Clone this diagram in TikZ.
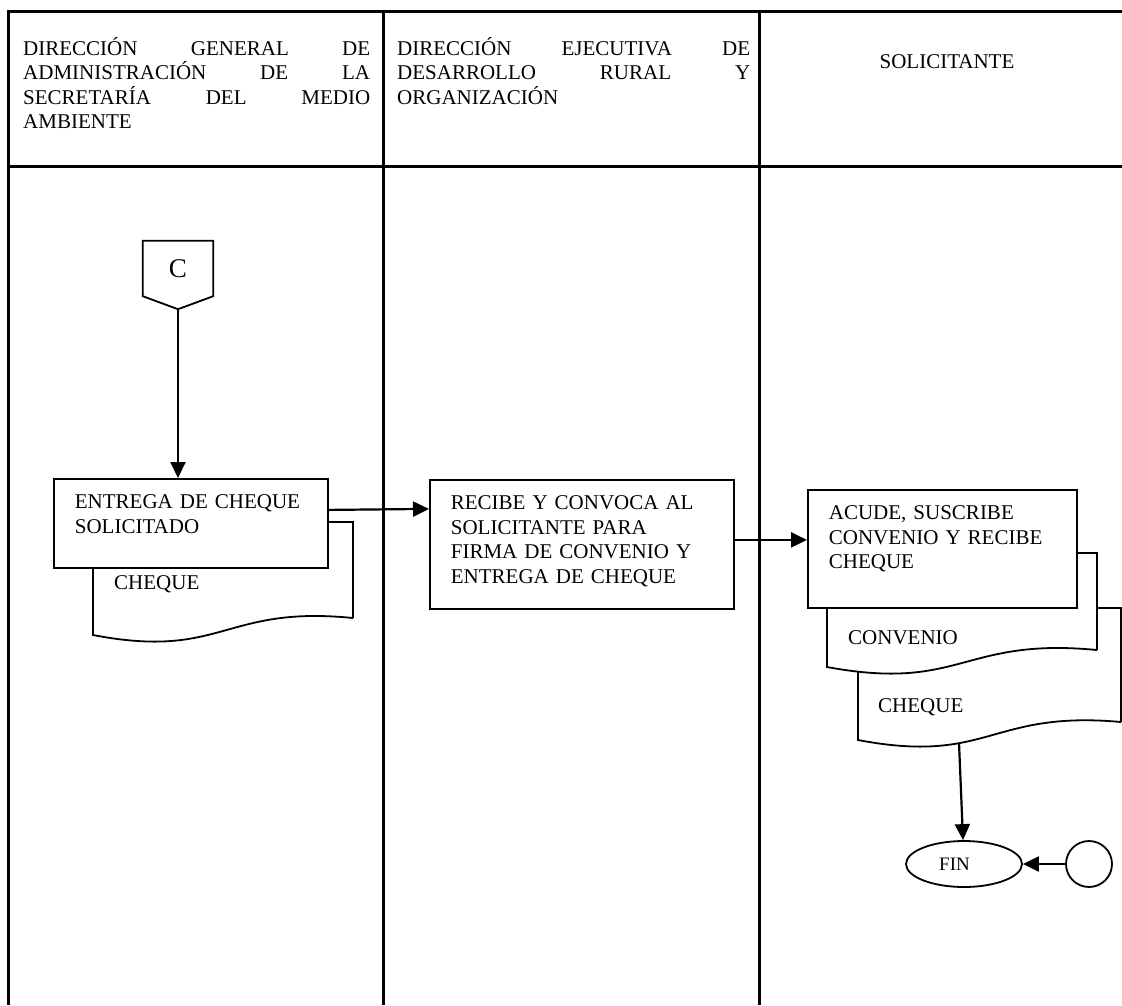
\documentclass[tikz,border=0pt]{standalone}
\usepackage{fontspec}
\setmainfont{Liberation Serif}
\usetikzlibrary{arrows.meta,shapes.geometric}
\hyphenpenalty=10000
\exhyphenpenalty=10000
\tolerance=10000

\begin{document}
\begin{tikzpicture}[x=1pt,y=-1pt,font=\fontsize{21}{24.5}\selectfont,
  lane/.style={line width=3pt},
  head/.style={inner sep=0pt,anchor=north west,text height=15pt},
  proc/.style={draw,rectangle,line width=1.8pt,fill=white,anchor=north west,align=left,
    inner xsep=21pt,inner ysep=16pt,text height=14pt},
  doc/.style={draw,line width=1.8pt,fill=white},
  doctxt/.style={anchor=base west,inner sep=0pt},
  flow/.style={line width=2.2pt,-{Triangle[length=16pt,width=15pt]}}]
  \useasboundingbox (0,0) rectangle (1122,1005);

  % swimlanes
  \draw[lane] (8,1005) -- (8,11) -- (1122,11);
  \draw[lane] (8,166) -- (1122,166);
  \draw[lane] (383,11) -- (383,1005);
  \draw[lane] (759,11) -- (759,1005);
  \node[head,text width=347pt,align=justify] (dga) at (23,40) {DIRECCIÓN GENERAL DE ADMINISTRACIÓN DE LA SECRETARÍA DEL MEDIO AMBIENTE};
  \node[head,text width=353pt,align=justify] (dedro) at (397,40) {DIRECCIÓN EJECUTIVA DE DESARROLLO RURAL Y ORGANIZACIÓN};
  \node[anchor=base,inner sep=0pt] (solic) at (947,68) {SOLICITANTE};

  % connector C
  \node[minimum width=70pt,minimum height=55pt,inner sep=0pt,font=\fontsize{27}{30}\selectfont] (conC) at (178,268.5) {C};
  \draw[line width=1.8pt] (conC.north west) -- (conC.north east) -- (conC.south east)
    -- ([yshift=-13pt]conC.south) coordinate (conCtip) -- (conC.south west) -- cycle;

  % first lane
  \draw[doc] (353,618) -- (353,522) -- (93,522) -- (93,635) .. controls (223,660) and (223,605) .. (353,618);
  \node[doctxt] (cheque1) at (114,589) {CHEQUE};
  \node[proc,text width=232pt,text depth=43pt] (entrega) at (53,478) {ENTREGA DE CHEQUE\\SOLICITADO};

  % second lane
  \node[proc,text width=262pt,text depth=83pt] (recibe) at (429,479) {RECIBE Y CONVOCA AL\\SOLICITANTE PARA\\FIRMA DE CONVENIO Y\\ENTREGA DE CHEQUE};

  % third lane
  \draw[doc] (1121,722) -- (1121,608) -- (858,608) -- (858,740) .. controls (989.5,765) and (989.5,710) .. (1121,722)
    coordinate[pos=.35] (chqbot);
  \node[doctxt] (cheque2) at (878,712) {CHEQUE};
  \draw[doc] (1097,650) -- (1097,553) -- (827,553) -- (827,667) .. controls (962,692) and (962,637) .. (1097,650);
  \node[doctxt] (convenio) at (848,644) {CONVENIO};
  \node[proc,text width=227pt,text depth=72pt] (acude) at (807,489) {ACUDE, SUSCRIBE\\CONVENIO Y RECIBE\\CHEQUE};
  \node[draw,ellipse,line width=1.8pt,minimum width=116pt,minimum height=46pt,font=\fontsize{19}{22}\selectfont] (fin) at (964,864) {FIN\hspace*{19pt}};
  \node[draw,circle,line width=1.8pt,minimum size=46pt] (conn) at (1089,864) {};

  \draw[flow] (conCtip) -- (conCtip |- entrega.north);
  \draw[flow] ([yshift=13.5pt]entrega.east) -- ([yshift=35.5pt]recibe.west);
  \draw[flow] ([yshift=4.5pt]recibe.east) -- ([yshift=9pt]acude.west);
  \draw[flow] (chqbot) -- (fin);
  \draw[flow] (conn) -- (fin);
\end{tikzpicture}
\end{document}
